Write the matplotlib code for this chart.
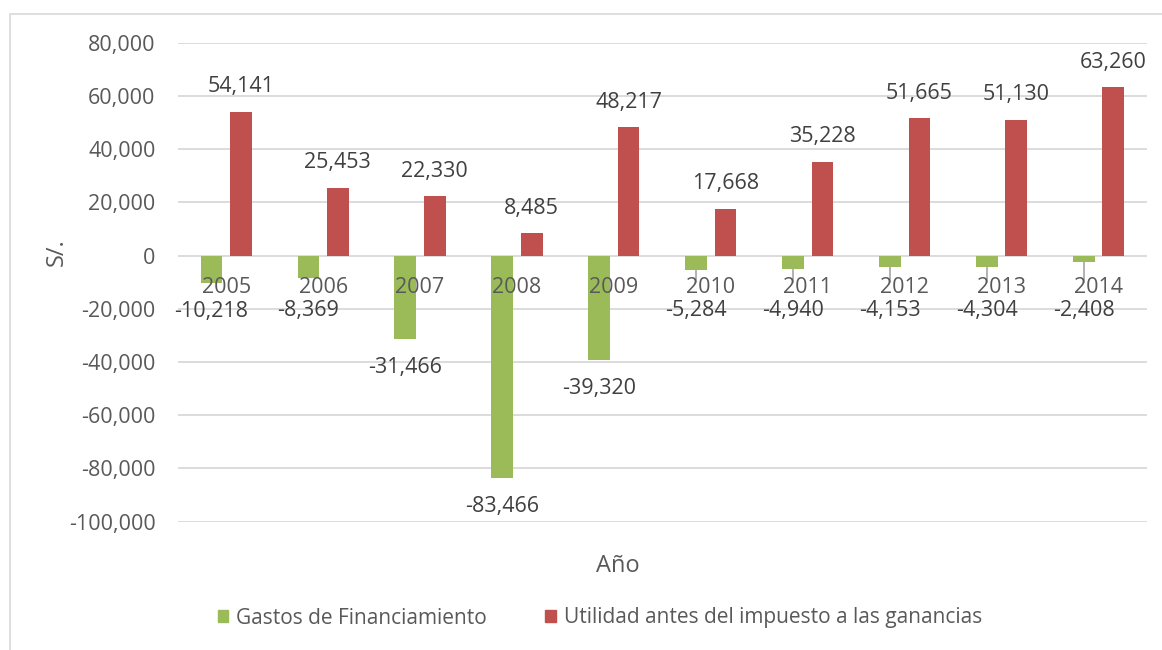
import numpy as np
import matplotlib.pyplot as plt
from matplotlib.patches import Patch, Rectangle
from matplotlib.ticker import FuncFormatter

plt.rcParams['font.family'] = ['Open Sans', 'DejaVu Sans']

# data
years = ['2005', '2006', '2007', '2008', '2009', '2010', '2011', '2012', '2013', '2014']
gastos = [-10218, -8369, -31466, -83466, -39320, -5284, -4940, -4153, -4304, -2408]
utilidad = [54141, 25453, 22330, 8485, 48217, 17668, 35228, 51665, 51130, 63260]

GREEN = '#9BBB59'
RED = '#C0504D'
GRID = '#D9D9D9'
TXT = '#404040'
TICK = '#595959'

W, H = 1162, 650
fig = plt.figure(figsize=(W / 100, H / 100), dpi=100)
ax = fig.add_axes([177.7 / W, 1 - 521.7 / H, (1147 - 177.7) / W, (521.7 - 42.7) / H])

# chart frame
fig.patches.append(Rectangle((10 / W, -0.05), 1.2, 1 - 14 / H + 0.05, transform=fig.transFigure,
                             fill=False, edgecolor=GRID, linewidth=1.2))

x = np.arange(len(years))
bw = 0.224
off = 0.152
ax.bar(x - off, gastos, bw, color=GREEN, zorder=2)
ax.bar(x + off, utilidad, bw, color=RED, zorder=2)

ax.set_xlim(-0.5, len(years) - 0.5)
ax.set_ylim(-100000, 80000)
ax.set_yticks(np.arange(-100000, 80001, 20000))
ax.yaxis.set_major_formatter(FuncFormatter(lambda v, p: f'{int(v):,}'))
ax.grid(axis='y', color=GRID, linewidth=1.3, zorder=0)
ax.set_axisbelow(True)
for s in ax.spines.values():
    s.set_visible(False)
ax.set_xticks([])
ax.tick_params(axis='y', length=0, pad=16, labelsize=15.5, labelcolor=TICK)

# category labels sit just under the zero line, on top of the bars
for i, yr in enumerate(years):
    ax.annotate(yr, (x[i], 0), xytext=(0, -23), textcoords='offset points',
                ha='center', va='center', fontsize=15.5, color=TICK, zorder=5)

# data labels
for i, v in enumerate(utilidad):
    ax.annotate(f'{v:,}', (x[i] + off, v), xytext=(0, 18), textcoords='offset points',
                ha='center', va='center', fontsize=15.5, color=TXT)

for i, v in enumerate(gastos):
    ly = min(v, -9800)
    ax.annotate(f'{v:,}', (x[i] - off, ly), xytext=(0, -20.5), textcoords='offset points',
                ha='center', va='center', fontsize=15.5, color=TXT, zorder=6)
    if v > -6000:
        ax.plot([x[i] - off, x[i] - off], [v, -10000], color='#A6A6A6', linewidth=1.2, zorder=3)

fig.text(57 / W, 1 - 252 / H, 'S/.', rotation=90, ha='center', va='center',
         fontsize=17, color=TICK)
fig.text(618 / W, 1 - 566 / H, 'Año', ha='center', va='center', fontsize=17, color=TICK)

handles = [Patch(color=GREEN, label='Gastos de Financiamiento'),
           Patch(color=RED, label='Utilidad antes del impuesto a las ganancias')]
fig.legend(handles=handles, loc='center', bbox_to_anchor=(600 / W, 1 - 618 / H), ncol=2,
           frameon=False, fontsize=15, handlelength=0.5, handleheight=0.5, handletextpad=0.4,
           columnspacing=2.8, labelcolor=TICK)

fig.savefig('out.png', dpi=100)
